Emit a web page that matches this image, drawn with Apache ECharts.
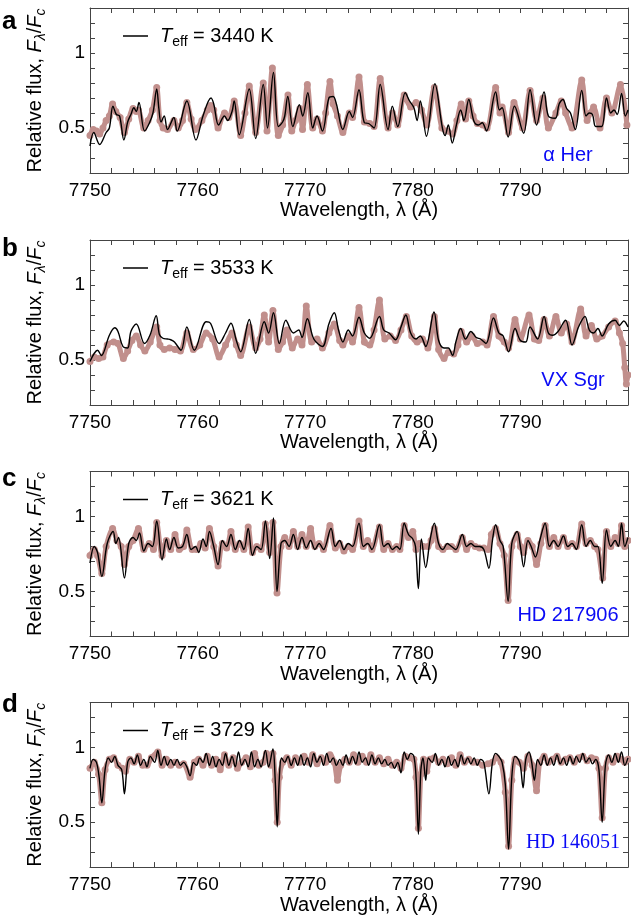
<!DOCTYPE html>
<html><head><meta charset="utf-8">
<script src="https://cdn.jsdelivr.net/npm/echarts@6/dist/echarts.min.js"></script>
<style>html,body{margin:0;padding:0;background:#fff}#c{width:631px;height:916px}</style>
</head><body><div id="c"></div>
<script>
// ---------------- data ----------------
const panelLetters = ['a', 'b', 'c', 'd'];
const teffValues = [3440, 3533, 3621, 3729];
const starNames = ['α Her', 'VX Sgr', 'HD 217906', 'HD 146051'];
const xTickLabels = [7750, 7760, 7770, 7780, 7790];
const yTickLabels = [0.5, 1];

// panel a : model (black line) and observed (dots), [wavelength, relative flux]
const modelA = [[7750.0,0.38],[7750.35,0.47],[7750.9,0.39],[7751.5,0.47],[7751.8,0.50],[7752.13,0.645],[7752.45,0.59],[7752.75,0.58],[7753.15,0.42],[7753.5,0.54],[7753.8,0.59],[7754.08,0.635],[7754.3,0.61],[7754.55,0.67],[7755.07,0.48],[7755.5,0.53],[7755.85,0.60],[7756.2,0.76],[7756.4,0.63],[7756.6,0.54],[7756.9,0.58],[7757.2,0.49],[7757.8,0.57],[7758.1,0.48],[7759.0,0.68],[7759.85,0.42],[7760.5,0.58],[7761.25,0.70],[7761.5,0.66],[7761.95,0.52],[7762.5,0.58],[7762.8,0.55],[7763.2,0.61],[7763.4,0.68],[7763.87,0.455],[7764.8,0.76],[7765.4,0.43],[7766.1,0.79],[7766.5,0.50],[7767.05,0.87],[7767.5,0.51],[7767.9,0.54],[7768.1,0.58],[7768.38,0.71],[7768.85,0.51],[7769.46,0.655],[7769.77,0.58],[7770.24,0.735],[7770.7,0.50],[7771.1,0.58],[7771.6,0.48],[7772.2,0.70],[7772.6,0.71],[7772.9,0.66],[7773.5,0.49],[7774.1,0.61],[7774.4,0.57],[7775.0,0.755],[7775.5,0.535],[7775.9,0.53],[7776.4,0.50],[7776.97,0.79],[7777.7,0.49],[7778.1,0.645],[7778.6,0.51],[7779.3,0.735],[7779.7,0.68],[7780.1,0.635],[7780.4,0.55],[7780.7,0.68],[7781.27,0.445],[7782.05,0.795],[7782.75,0.50],[7783.0,0.45],[7783.3,0.52],[7783.67,0.40],[7784.05,0.52],[7784.45,0.62],[7784.75,0.55],[7785.2,0.69],[7785.68,0.545],[7786.1,0.52],[7786.45,0.535],[7786.85,0.48],[7787.7,0.74],[7788.05,0.62],[7788.3,0.635],[7788.86,0.44],[7789.45,0.645],[7790.3,0.465],[7790.9,0.755],[7791.5,0.52],[7792.2,0.74],[7792.6,0.58],[7793.25,0.565],[7793.6,0.66],[7793.95,0.69],[7794.3,0.63],[7794.65,0.60],[7795.1,0.49],[7795.7,0.75],[7796.1,0.58],[7796.4,0.60],[7796.7,0.59],[7797.0,0.51],[7797.55,0.51],[7798.0,0.70],[7798.4,0.60],[7798.7,0.62],[7799.0,0.59],[7799.4,0.73],[7799.75,0.58],[7800.0,0.62]];
const obsA = [[7750.0,0.45],[7750.3,0.49],[7750.6,0.48],[7750.9,0.46],[7751.2,0.50],[7751.5,0.55],[7751.8,0.58],[7752.1,0.66],[7752.4,0.61],[7752.8,0.57],[7753.2,0.47],[7753.6,0.56],[7754.0,0.63],[7754.3,0.61],[7754.5,0.62],[7755.0,0.50],[7755.4,0.55],[7755.8,0.62],[7756.2,0.77],[7756.5,0.55],[7756.8,0.50],[7757.2,0.49],[7757.8,0.55],[7758.2,0.50],[7758.6,0.55],[7759.0,0.67],[7759.4,0.56],[7759.8,0.49],[7760.4,0.55],[7760.9,0.62],[7761.2,0.65],[7761.5,0.62],[7761.9,0.50],[7762.5,0.60],[7762.9,0.57],[7763.4,0.68],[7764.0,0.45],[7764.4,0.60],[7764.8,0.78],[7765.4,0.47],[7766.1,0.80],[7766.45,0.48],[7766.95,0.90],[7767.5,0.45],[7767.9,0.52],[7768.4,0.72],[7768.75,0.48],[7769.1,0.55],[7769.5,0.63],[7769.75,0.49],[7770.2,0.79],[7770.7,0.50],[7771.1,0.56],[7771.6,0.48],[7771.9,0.60],[7772.3,0.81],[7772.6,0.66],[7773.0,0.58],[7773.5,0.47],[7774.1,0.60],[7774.4,0.57],[7775.0,0.84],[7775.5,0.54],[7776.0,0.53],[7776.4,0.51],[7776.97,0.83],[7777.7,0.50],[7778.1,0.60],[7778.6,0.52],[7779.2,0.72],[7779.8,0.64],[7780.3,0.67],[7780.8,0.62],[7781.3,0.52],[7782.0,0.77],[7782.7,0.50],[7783.2,0.48],[7783.7,0.46],[7784.1,0.55],[7784.5,0.66],[7784.9,0.56],[7785.2,0.68],[7785.6,0.58],[7786.0,0.53],[7786.5,0.52],[7786.9,0.50],[7787.7,0.77],[7788.1,0.60],[7788.3,0.64],[7788.9,0.47],[7789.4,0.67],[7790.2,0.50],[7790.9,0.75],[7791.5,0.55],[7792.1,0.70],[7792.6,0.50],[7793.3,0.60],[7793.8,0.68],[7794.2,0.60],[7794.8,0.50],[7795.7,0.82],[7796.2,0.55],[7796.5,0.60],[7796.8,0.64],[7797.4,0.50],[7798.0,0.70],[7798.5,0.60],[7799.3,0.79],[7799.9,0.52]];

// panel b
const modelB = [[7750.0,0.49],[7750.4,0.545],[7750.7,0.565],[7751.05,0.53],[7751.8,0.665],[7752.3,0.715],[7752.6,0.69],[7753.06,0.59],[7753.5,0.58],[7753.8,0.69],[7754.3,0.74],[7755.07,0.61],[7755.6,0.67],[7756.15,0.795],[7756.45,0.67],[7756.77,0.645],[7757.2,0.64],[7757.5,0.635],[7757.85,0.62],[7758.46,0.565],[7759.0,0.72],[7759.7,0.565],[7760.8,0.755],[7761.2,0.745],[7762.0,0.61],[7762.6,0.68],[7763.1,0.745],[7763.6,0.63],[7764.0,0.555],[7764.8,0.77],[7765.4,0.545],[7766.2,0.755],[7766.6,0.68],[7767.05,0.815],[7767.6,0.61],[7768.2,0.765],[7768.9,0.68],[7769.4,0.70],[7769.7,0.65],[7770.2,0.775],[7770.8,0.64],[7771.6,0.59],[7772.2,0.74],[7772.7,0.815],[7773.1,0.70],[7773.5,0.62],[7774.0,0.70],[7774.4,0.66],[7775.0,0.785],[7775.5,0.68],[7776.0,0.645],[7776.9,0.79],[7777.3,0.70],[7777.8,0.68],[7778.4,0.635],[7778.9,0.72],[7779.35,0.80],[7779.8,0.68],[7780.3,0.64],[7780.7,0.66],[7781.2,0.59],[7781.97,0.82],[7782.4,0.63],[7782.9,0.58],[7783.3,0.58],[7783.7,0.53],[7784.0,0.62],[7784.45,0.71],[7784.9,0.64],[7785.4,0.69],[7785.9,0.65],[7786.3,0.64],[7786.8,0.61],[7787.5,0.78],[7788.0,0.68],[7788.4,0.66],[7788.9,0.555],[7789.5,0.71],[7790.0,0.63],[7790.5,0.62],[7790.9,0.72],[7791.6,0.64],[7792.2,0.79],[7792.6,0.68],[7793.0,0.665],[7793.5,0.69],[7794.2,0.765],[7794.8,0.60],[7795.4,0.72],[7796.0,0.79],[7796.4,0.70],[7796.8,0.68],[7797.2,0.71],[7797.6,0.66],[7798.2,0.74],[7798.8,0.765],[7799.2,0.73],[7799.6,0.76],[7800.0,0.72]];
const obsB = [[7750.0,0.49],[7750.4,0.52],[7750.8,0.51],[7751.2,0.52],[7751.6,0.60],[7752.2,0.62],[7752.6,0.61],[7753.1,0.51],[7753.5,0.56],[7753.9,0.63],[7754.3,0.66],[7754.7,0.60],[7755.1,0.56],[7755.6,0.62],[7756.2,0.72],[7756.5,0.60],[7756.9,0.57],[7757.4,0.58],[7757.9,0.57],[7758.4,0.56],[7759.0,0.68],[7759.6,0.57],[7760.2,0.60],[7760.8,0.68],[7761.4,0.64],[7762.0,0.52],[7762.6,0.60],[7763.2,0.68],[7763.6,0.60],[7764.0,0.53],[7764.8,0.72],[7765.4,0.58],[7765.8,0.64],[7766.2,0.80],[7766.6,0.62],[7767.0,0.83],[7767.5,0.57],[7767.9,0.62],[7768.3,0.70],[7768.8,0.58],[7769.3,0.64],[7769.7,0.60],[7770.1,0.86],[7770.6,0.62],[7771.1,0.64],[7771.6,0.58],[7772.2,0.68],[7772.7,0.74],[7773.2,0.63],[7773.5,0.60],[7774.0,0.66],[7774.4,0.62],[7775.0,0.85],[7775.5,0.62],[7776.0,0.60],[7776.4,0.70],[7776.9,0.90],[7777.4,0.64],[7777.9,0.66],[7778.4,0.63],[7778.9,0.70],[7779.4,0.79],[7779.9,0.66],[7780.4,0.62],[7780.9,0.64],[7781.4,0.58],[7782.0,0.79],[7782.4,0.57],[7782.9,0.51],[7783.3,0.55],[7783.8,0.54],[7784.2,0.60],[7784.5,0.69],[7785.0,0.62],[7785.5,0.66],[7786.0,0.61],[7786.5,0.62],[7786.9,0.60],[7787.5,0.79],[7788.0,0.66],[7788.5,0.62],[7788.9,0.58],[7789.5,0.77],[7790.0,0.64],[7790.8,0.80],[7791.3,0.64],[7791.7,0.63],[7792.2,0.77],[7792.7,0.66],[7793.3,0.79],[7793.8,0.68],[7794.3,0.74],[7794.8,0.62],[7795.6,0.84],[7796.1,0.66],[7796.6,0.73],[7797.1,0.64],[7797.6,0.66],[7798.2,0.72],[7798.8,0.76],[7799.2,0.68],[7799.5,0.61],[7799.7,0.45],[7799.85,0.34],[7800.0,0.40]];

// panel c
const modelC = [[7750.0,0.69],[7750.4,0.80],[7750.7,0.76],[7751.1,0.60],[7751.6,0.82],[7752.15,0.90],[7752.4,0.82],[7752.65,0.86],[7753.2,0.59],[7753.6,0.82],[7754.0,0.86],[7754.3,0.84],[7754.6,0.89],[7755.0,0.77],[7755.4,0.82],[7755.8,0.80],[7756.2,0.97],[7756.7,0.71],[7757.1,0.85],[7757.4,0.78],[7757.8,0.86],[7758.2,0.79],[7758.6,0.80],[7759.0,0.88],[7759.4,0.78],[7759.8,0.80],[7760.1,0.76],[7760.5,0.85],[7760.8,0.80],[7761.1,0.90],[7761.5,0.80],[7761.9,0.68],[7762.3,0.84],[7762.7,0.80],[7763.1,0.88],[7763.5,0.78],[7763.9,0.84],[7764.3,0.78],[7764.7,0.92],[7765.1,0.74],[7765.5,0.80],[7765.9,0.78],[7766.3,0.97],[7766.7,0.72],[7767.05,0.99],[7767.38,0.50],[7767.75,0.82],[7768.1,0.84],[7768.5,0.80],[7768.9,0.88],[7769.3,0.78],[7769.7,0.86],[7770.1,0.79],[7770.5,0.84],[7770.9,0.78],[7771.3,0.82],[7771.7,0.78],[7772.4,0.92],[7772.8,0.80],[7773.2,0.84],[7773.6,0.78],[7774.0,0.82],[7774.4,0.80],[7775.0,0.955],[7775.4,0.80],[7775.8,0.82],[7776.2,0.78],[7776.9,0.945],[7777.3,0.80],[7777.7,0.82],[7778.1,0.78],[7778.5,0.80],[7778.8,0.78],[7779.2,0.955],[7779.6,0.88],[7780.0,0.85],[7780.25,0.80],[7780.52,0.52],[7780.8,0.85],[7781.2,0.66],[7781.6,0.84],[7782.0,0.955],[7782.4,0.82],[7782.8,0.78],[7783.2,0.82],[7783.6,0.80],[7784.0,0.78],[7784.6,0.88],[7785.0,0.80],[7785.4,0.82],[7785.8,0.80],[7786.2,0.80],[7786.6,0.78],[7787.07,0.655],[7787.4,0.84],[7787.7,0.945],[7788.1,0.84],[7788.4,0.80],[7788.86,0.435],[7789.2,0.82],[7789.7,0.90],[7790.0,0.80],[7790.3,0.665],[7790.7,0.84],[7791.0,0.80],[7791.4,0.73],[7791.8,0.84],[7792.3,0.955],[7792.7,0.80],[7793.1,0.84],[7793.5,0.80],[7794.0,0.87],[7794.4,0.80],[7794.8,0.82],[7795.2,0.78],[7795.7,0.945],[7796.1,0.80],[7796.5,0.84],[7796.9,0.80],[7797.2,0.80],[7797.6,0.555],[7798.0,0.91],[7798.4,0.80],[7798.8,0.84],[7799.1,0.80],[7799.4,0.955],[7799.7,0.80],[7800.0,0.86]];
const obsC = [[7750.0,0.74],[7750.4,0.78],[7750.7,0.74],[7751.1,0.62],[7751.5,0.80],[7752.1,0.92],[7752.5,0.84],[7752.9,0.80],[7753.2,0.68],[7753.6,0.80],[7754.0,0.84],[7754.5,0.92],[7755.0,0.78],[7755.5,0.82],[7755.9,0.78],[7756.2,0.96],[7756.7,0.74],[7757.1,0.84],[7757.5,0.78],[7757.9,0.88],[7758.3,0.78],[7758.7,0.80],[7759.0,0.91],[7759.5,0.78],[7759.9,0.78],[7760.3,0.82],[7760.7,0.79],[7761.1,0.92],[7761.5,0.80],[7761.9,0.67],[7762.3,0.82],[7762.7,0.79],[7763.1,0.90],[7763.5,0.78],[7763.9,0.82],[7764.3,0.78],[7764.7,0.93],[7765.1,0.76],[7765.5,0.80],[7765.9,0.78],[7766.3,0.95],[7766.7,0.76],[7767.0,0.96],[7767.38,0.49],[7767.75,0.80],[7768.1,0.86],[7768.5,0.80],[7768.9,0.90],[7769.3,0.80],[7769.7,0.88],[7770.1,0.80],[7770.5,0.92],[7770.9,0.80],[7771.3,0.82],[7771.7,0.78],[7772.3,0.94],[7772.8,0.79],[7773.2,0.82],[7773.6,0.77],[7774.0,0.80],[7774.4,0.78],[7775.0,0.97],[7775.4,0.80],[7775.8,0.84],[7776.2,0.78],[7776.9,0.93],[7777.3,0.78],[7777.7,0.82],[7778.1,0.78],[7778.5,0.80],[7778.8,0.78],[7779.2,0.94],[7779.6,0.86],[7780.0,0.90],[7780.3,0.78],[7780.6,0.82],[7781.0,0.80],[7781.4,0.80],[7781.7,0.84],[7782.0,0.92],[7782.4,0.80],[7782.8,0.78],[7783.2,0.80],[7783.6,0.80],[7784.0,0.78],[7784.6,0.86],[7785.0,0.78],[7785.4,0.82],[7785.8,0.80],[7786.2,0.79],[7786.6,0.79],[7787.0,0.78],[7787.3,0.88],[7787.7,0.92],[7788.1,0.82],[7788.5,0.74],[7788.86,0.44],[7789.2,0.80],[7789.7,0.88],[7790.0,0.80],[7790.3,0.76],[7790.7,0.84],[7791.1,0.80],[7791.5,0.68],[7791.9,0.82],[7792.3,0.94],[7792.7,0.80],[7793.1,0.86],[7793.5,0.80],[7794.0,0.86],[7794.4,0.80],[7794.8,0.82],[7795.2,0.80],[7795.7,0.95],[7796.1,0.82],[7796.5,0.84],[7796.9,0.80],[7797.2,0.78],[7797.65,0.59],[7798.0,0.90],[7798.4,0.80],[7798.8,0.86],[7799.1,0.82],[7799.4,0.94],[7799.7,0.80],[7800.0,0.84]];

// panel d
const modelD = [[7750.0,0.86],[7750.3,0.92],[7750.6,0.90],[7750.85,0.80],[7751.1,0.63],[7751.4,0.85],[7751.7,0.93],[7752.0,0.90],[7752.3,0.94],[7752.6,0.88],[7752.95,0.85],[7753.2,0.69],[7753.5,0.90],[7753.8,0.93],[7754.1,0.89],[7754.4,0.95],[7754.7,0.88],[7755.0,0.92],[7755.3,0.87],[7755.6,0.94],[7756.0,0.90],[7756.3,0.98],[7756.6,0.88],[7756.9,0.94],[7757.2,0.88],[7757.5,0.92],[7757.8,0.88],[7758.1,0.92],[7758.4,0.88],[7758.7,0.90],[7759.0,0.87],[7759.3,0.81],[7759.6,0.90],[7759.9,0.88],[7760.2,0.93],[7760.5,0.90],[7760.8,0.96],[7761.1,0.88],[7761.4,0.94],[7761.7,0.87],[7762.0,0.92],[7762.3,0.88],[7762.6,0.96],[7762.9,0.88],[7763.2,0.94],[7763.5,0.87],[7763.8,0.97],[7764.1,0.88],[7764.4,0.92],[7764.7,0.87],[7765.0,0.97],[7765.3,0.87],[7765.6,0.92],[7765.9,0.87],[7766.3,0.98],[7766.6,0.87],[7767.0,0.99],[7767.2,0.80],[7767.4,0.47],[7767.6,0.80],[7767.8,0.93],[7768.1,0.90],[7768.4,0.94],[7768.7,0.88],[7769.0,0.93],[7769.3,0.88],[7769.6,0.95],[7769.9,0.88],[7770.2,0.93],[7770.5,0.87],[7770.8,0.96],[7771.1,0.90],[7771.4,0.94],[7771.7,0.88],[7772.0,0.96],[7772.3,0.90],[7772.6,0.93],[7772.9,0.88],[7773.2,0.92],[7773.5,0.88],[7773.8,0.95],[7774.1,0.89],[7774.4,0.94],[7774.7,0.89],[7775.0,0.97],[7775.3,0.90],[7775.6,0.93],[7775.9,0.88],[7776.2,0.95],[7776.5,0.89],[7776.8,0.93],[7777.1,0.89],[7777.4,0.92],[7777.7,0.88],[7778.0,0.90],[7778.3,0.86],[7778.6,0.90],[7778.9,0.83],[7779.2,0.97],[7779.5,0.92],[7779.8,0.96],[7780.1,0.94],[7780.3,0.80],[7780.52,0.42],[7780.75,0.85],[7780.95,0.93],[7781.2,0.78],[7781.45,0.93],[7781.8,0.90],[7782.1,0.96],[7782.4,0.88],[7782.7,0.92],[7783.0,0.87],[7783.3,0.94],[7783.6,0.88],[7783.9,0.92],[7784.2,0.87],[7784.5,0.95],[7784.8,0.89],[7785.1,0.93],[7785.4,0.89],[7785.7,0.93],[7786.0,0.88],[7786.3,0.92],[7786.6,0.90],[7787.07,0.69],[7787.4,0.90],[7787.7,0.96],[7788.0,0.94],[7788.3,0.90],[7788.6,0.75],[7788.9,0.32],[7789.2,0.80],[7789.5,0.94],[7789.8,0.92],[7790.0,0.88],[7790.25,0.73],[7790.5,0.92],[7790.8,0.97],[7791.05,0.90],[7791.3,0.78],[7791.6,0.92],[7791.9,0.88],[7792.2,0.95],[7792.5,0.88],[7792.8,0.93],[7793.1,0.88],[7793.4,0.95],[7793.7,0.89],[7794.0,0.93],[7794.3,0.88],[7794.6,0.94],[7794.9,0.89],[7795.2,0.94],[7795.5,0.90],[7795.8,0.96],[7796.1,0.90],[7796.4,0.93],[7796.7,0.89],[7797.0,0.92],[7797.3,0.85],[7797.6,0.50],[7797.9,0.88],[7798.2,0.95],[7798.5,0.90],[7798.8,0.96],[7799.1,0.90],[7799.4,0.97],[7799.7,0.88],[7800.0,0.93]];
const obsD = [[7750.0,0.86],[7750.4,0.90],[7750.8,0.82],[7751.1,0.63],[7751.4,0.85],[7751.8,0.92],[7752.2,0.93],[7752.6,0.88],[7753.0,0.86],[7753.3,0.84],[7753.7,0.92],[7754.1,0.90],[7754.5,0.94],[7754.9,0.88],[7755.3,0.88],[7755.7,0.93],[7756.3,0.97],[7756.7,0.88],[7757.1,0.92],[7757.5,0.88],[7757.9,0.90],[7758.3,0.88],[7758.7,0.89],[7759.3,0.80],[7759.7,0.90],[7760.1,0.92],[7760.5,0.88],[7760.9,0.94],[7761.3,0.88],[7761.7,0.92],[7762.1,0.85],[7762.5,0.95],[7762.9,0.88],[7763.3,0.93],[7763.7,0.86],[7764.1,0.90],[7764.5,0.93],[7764.9,0.87],[7765.3,0.96],[7765.7,0.88],[7766.1,0.90],[7766.4,0.96],[7766.8,0.88],[7767.0,0.96],[7767.2,0.78],[7767.4,0.50],[7767.6,0.80],[7767.9,0.90],[7768.3,0.93],[7768.7,0.88],[7769.1,0.93],[7769.5,0.90],[7769.9,0.94],[7770.3,0.90],[7770.7,0.95],[7771.1,0.89],[7771.5,0.93],[7771.9,0.90],[7772.3,0.95],[7772.7,0.90],[7773.0,0.78],[7773.3,0.88],[7773.7,0.92],[7774.1,0.90],[7774.5,0.95],[7774.9,0.90],[7775.3,0.94],[7775.7,0.90],[7776.1,0.95],[7776.5,0.90],[7776.9,0.93],[7777.3,0.89],[7777.7,0.92],[7778.1,0.88],[7778.5,0.90],[7778.9,0.86],[7779.3,0.94],[7779.7,0.93],[7780.1,0.92],[7780.3,0.80],[7780.52,0.46],[7780.75,0.82],[7781.0,0.92],[7781.3,0.84],[7781.6,0.92],[7782.0,0.93],[7782.4,0.90],[7782.8,0.92],[7783.2,0.89],[7783.6,0.93],[7784.0,0.88],[7784.4,0.95],[7784.8,0.90],[7785.2,0.92],[7785.6,0.90],[7786.0,0.90],[7786.5,0.88],[7787.0,0.89],[7787.4,0.90],[7787.8,0.93],[7788.2,0.90],[7788.6,0.70],[7788.9,0.34],[7789.2,0.78],[7789.5,0.92],[7789.9,0.90],[7790.3,0.86],[7790.7,0.94],[7791.1,0.88],[7791.5,0.71],[7791.8,0.90],[7792.2,0.94],[7792.6,0.90],[7793.0,0.92],[7793.4,0.94],[7793.8,0.90],[7794.2,0.92],[7794.6,0.93],[7795.0,0.90],[7795.4,0.93],[7795.8,0.94],[7796.2,0.91],[7796.6,0.93],[7797.0,0.92],[7797.3,0.86],[7797.6,0.53],[7797.9,0.86],[7798.2,0.93],[7798.6,0.90],[7799.0,0.94],[7799.4,0.92],[7799.7,0.90],[7800.0,0.92]];

const modelSets = [modelA, modelB, modelC, modelD];
const obsSets = [obsA, obsB, obsC, obsD];

// ---------------- layout / style ----------------
const tops = [8, 240, 471.5, 702.5];
const plotLeft = 90, plotWidth = 538, plotHeight = 165;
const dotColor = '#c18f8c';
const axisColor = '#444';
const sans = '"Liberation Sans", Arial, Helvetica, sans-serif';
const serif = '"Liberation Serif", "Times New Roman", serif';

const grids = [], xAxes = [], yAxes = [], series = [], legends = [], graphics = [];
const starFonts = [sans, sans, sans, serif];
const starPos = [[568, 155], [573, 380], [568, 615], [573, 843]];
const letterPos = [[2, 9], [2, 236], [2, 466], [2, 692]];

tops.forEach((top, i) => {
  grids.push({ left: plotLeft, top: top, width: plotWidth, height: plotHeight });
  const tickStyle = { inside: true, length: 5, lineStyle: { color: axisColor, width: 1 } };
  xAxes.push({
    type: 'value', gridIndex: i, min: 7750, max: 7800, interval: 2, position: 'bottom',
    axisLine: { show: true, lineStyle: { color: axisColor, width: 1 } },
    axisTick: tickStyle,
    axisLabel: {
      color: '#000', fontSize: 19, fontFamily: sans, margin: 8,
      formatter: v => (xTickLabels.indexOf(Math.round(v)) >= 0 && Math.abs(v - Math.round(v)) < 1e-6) ? String(Math.round(v)) : ''
    },
    splitLine: { show: false },
    name: 'Wavelength, λ (Å)', nameLocation: 'middle', nameGap: 27,
    nameTextStyle: { color: '#000', fontSize: 20, fontFamily: sans, verticalAlign: 'top' }
  });
  xAxes.push({
    type: 'value', gridIndex: i, min: 7750, max: 7800, interval: 2, position: 'top',
    axisLine: { show: true, lineStyle: { color: axisColor, width: 1 } },
    axisTick: tickStyle, axisLabel: { show: false }, splitLine: { show: false }
  });
  yAxes.push({
    type: 'value', gridIndex: i, min: 0.2, max: 1.3, interval: 0.1, position: 'left',
    axisLine: { show: true, lineStyle: { color: axisColor, width: 1 } },
    axisTick: tickStyle,
    axisLabel: {
      color: '#000', fontSize: 19, fontFamily: sans, margin: 5,
      formatter: v => { const m = yTickLabels.find(t => Math.abs(t - v) < 1e-6); return m !== undefined ? String(m) : ''; }
    },
    splitLine: { show: false },
    name: 'Relative flux, {i|F}{s|λ}{n|/}{i|F}{s|c}', nameLocation: 'middle', nameGap: 40, nameRotate: 90,
    nameTextStyle: {
      color: '#000', fontSize: 20, fontFamily: sans,
      rich: {
        i: { fontStyle: 'italic', fontSize: 20, fontFamily: sans, color: '#000' },
        n: { fontSize: 20, fontFamily: sans, color: '#000' },
        s: { fontStyle: 'italic', fontSize: 14, fontFamily: sans, color: '#000', padding: [10, 0, 0, 0] }
      }
    }
  });
  yAxes.push({
    type: 'value', gridIndex: i, min: 0.2, max: 1.3, interval: 0.1, position: 'right',
    axisLine: { show: true, lineStyle: { color: axisColor, width: 1 } },
    axisTick: tickStyle, axisLabel: { show: false }, splitLine: { show: false }
  });
  const name = 'Teff = ' + teffValues[i] + ' K';
  series.push({
    type: 'line', name: 'obs' + i, xAxisIndex: 2 * i, yAxisIndex: 2 * i, data: obsSets[i],
    symbol: 'circle', symbolSize: 7, showSymbol: true, showAllSymbol: true, smooth: 0.3,
    lineStyle: { color: dotColor, width: 5 }, itemStyle: { color: dotColor, borderWidth: 0 }, z: 2, silent: true
  });
  series.push({
    type: 'line', name: name, xAxisIndex: 2 * i, yAxisIndex: 2 * i, data: modelSets[i],
    symbol: 'none', smooth: 0.35, lineStyle: { color: '#000', width: 1.4 }, itemStyle: { color: '#000' }, z: 3, silent: true
  });
  legends.push({
    data: [{ name: name, icon: 'rect', itemStyle: { color: '#000' } }],
    left: 118, top: top + 13, itemWidth: 25, itemHeight: 1.5, selectedMode: false,
    formatter: () => '{i|T}{s|eff}{n| = ' + teffValues[i] + ' K}',
    textStyle: {
      color: '#000', fontSize: 20, fontFamily: sans, padding: [0, 0, 0, 7],
      rich: {
        i: { fontStyle: 'italic', fontSize: 20, fontFamily: sans, color: '#000' },
        n: { fontSize: 20, fontFamily: sans, color: '#000' },
        s: { fontSize: 14, fontFamily: sans, color: '#000', padding: [12, 0, 0, 0] }
      }
    }
  });
  graphics.push({
    type: 'text', left: letterPos[i][0], top: letterPos[i][1],
    style: { text: panelLetters[i], font: 'bold 26px ' + sans, fill: '#000' }
  });
  graphics.push({
    type: 'text', x: starPos[i][0], y: starPos[i][1],
    style: { text: starNames[i], font: '20px ' + starFonts[i], fill: '#0a0af5', textAlign: 'center', textVerticalAlign: 'middle' }
  });
});

const chart = echarts.init(document.getElementById('c'), null, { renderer: 'canvas' });
chart.setOption({
  animation: false,
  backgroundColor: '#fff',
  grid: grids, xAxis: xAxes, yAxis: yAxes, series: series, legend: legends, graphic: graphics
});
</script>
</body></html>
